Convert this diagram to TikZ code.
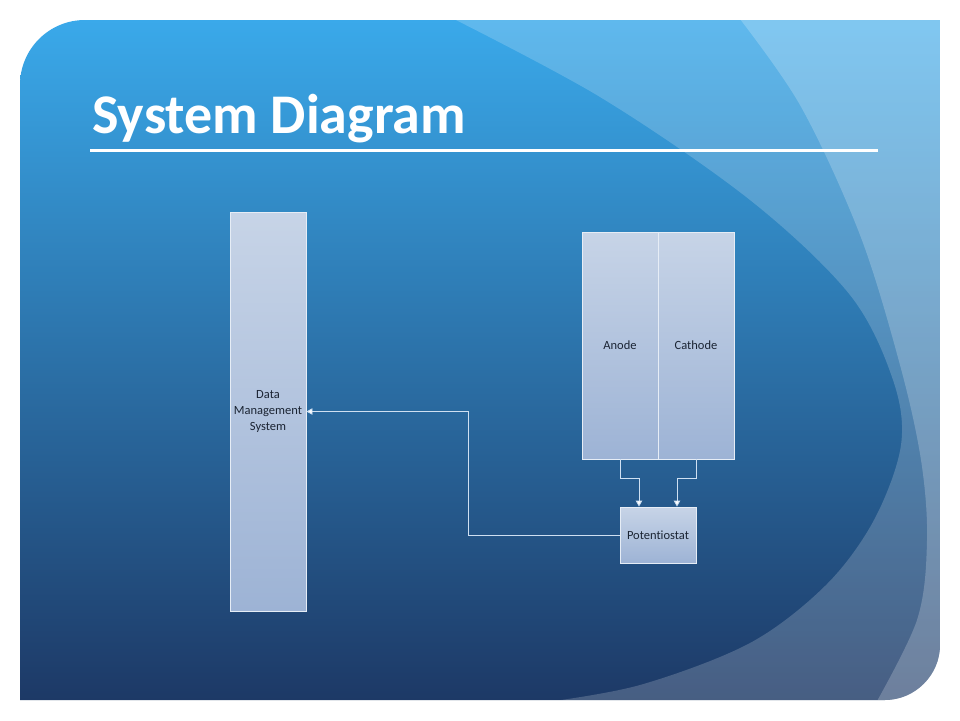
\documentclass[tikz,border=0pt]{standalone}
\usepackage{fontspec}
\setmainfont{Carlito}[Ligatures=NoCommon]
\usetikzlibrary{arrows.meta,calc}
\definecolor{bgtop}{HTML}{3AA9EA}
\definecolor{bgmid}{HTML}{2C82C2}
\definecolor{bgbot}{HTML}{1D3966}
\definecolor{boxtop}{HTML}{C7D4E7}
\definecolor{boxbot}{HTML}{9DB3D5}
\definecolor{boxline}{HTML}{E6EDF6}
\definecolor{conncol}{HTML}{CFE0F2}
\definecolor{txtcol}{HTML}{1B2433}
\begin{document}
\begin{tikzpicture}[x=1pt,y=-1pt,
  blockbox/.style={draw=boxline, line width=0.9pt, top color=boxtop, bottom color=boxbot,
    text=txtcol, font=\fontsize{12.5}{16}\selectfont, align=center, inner sep=0pt,
    minimum width=76pt},
  conn/.style={draw=conncol, line width=0.9pt,
    -{Triangle[length=6pt,width=6.5pt,fill=white]}},
  overlay1/.style={fill=white, fill opacity=0.19},
  overlay2/.style={fill=white, fill opacity=0.21}]
\useasboundingbox (0,0) rectangle (960,720);
\fill[white] (0,0) rectangle (960,720);
\begin{scope}
  \clip (20,700) -- (20,85) .. controls (20,49) and (49,20) .. (85,20) -- (940,20)
        -- (940,645) .. controls (940,675) and (915,700) .. (885,700) -- cycle;
  \shade[top color=bgtop, middle color=bgmid, bottom color=bgbot] (20,20) rectangle (940,700);
  \path[overlay1] plot[smooth, tension=0.55] coordinates {(440,12) (600,97) (750,200)
      (850,295) (893,380) (901,445) (874,520) (826,585) (750,643) (640,685) (540,703)}
      -- (540,720) -- (960,720) -- (960,0) -- (440,0) -- cycle;
  \path[overlay2] plot[smooth, tension=0.55] coordinates {(733,10) (800,105)
      (860,235) (900,365) (921,460) (927,540) (917,620) (872,710)}
      -- (872,720) -- (960,720) -- (960,0) -- (733,0) -- cycle;
\end{scope}
\node[anchor=base west, text=white, inner sep=0pt,
      font=\fontsize{56}{60}\selectfont\bfseries] (title) at (92,133) {System Diagram};
\coordinate (ulL) at (90,150);
\coordinate (ulR) at (878,150);
\draw[white, line width=3pt] (ulL) -- (ulR);
\node[blockbox, minimum height=399pt] (dms) at (268,411.5) {Data\\Management\\System};
\node[blockbox, minimum height=227pt] (anode) at (620,345.5) {Anode};
\node[blockbox, minimum height=227pt] (cathode) at (696,345.5) {Cathode};
\node[blockbox, minimum height=56pt] (pot) at (658,535) {Potentiostat};
\coordinate (bend) at (468,411.5);
\draw[conn] (anode.south) -- ++(0,19) -| ([xshift=-19pt]pot.north);
\draw[conn] (cathode.south) -- ++(0,19) -| ([xshift=19pt]pot.north);
\draw[conn] (pot.west) -| (bend) -- (dms.east);
\end{tikzpicture}
\end{document}
